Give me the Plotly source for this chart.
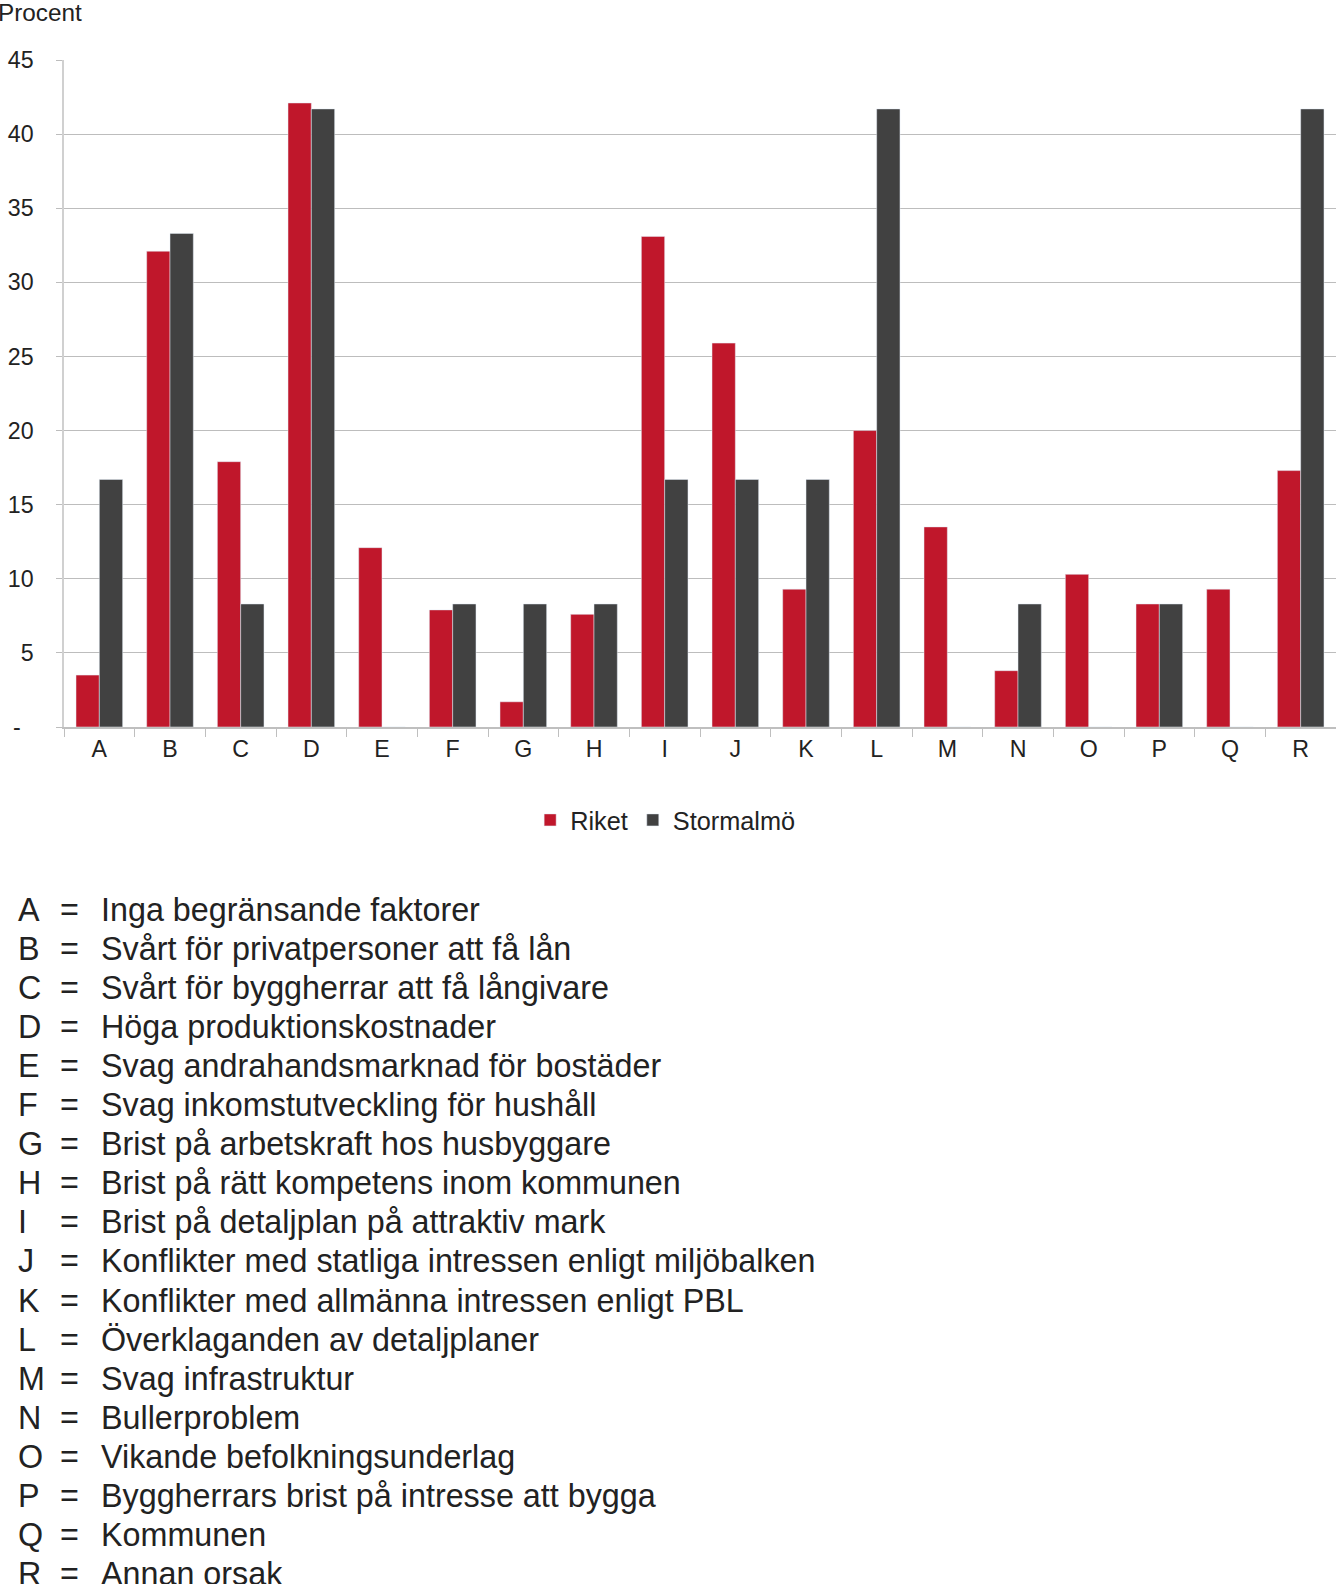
import plotly.graph_objects as go

# ---- data ----
categories = list("ABCDEFGHIJKLMNOPQR")
riket = [3.5, 32.1, 17.9, 42.1, 12.1, 7.9, 1.7, 7.6, 33.1, 25.9, 9.3, 20.0, 13.5, 3.8, 10.3, 8.3, 9.3, 17.3]
stormalmo = [16.7, 33.3, 8.3, 41.7, 0, 8.3, 8.3, 8.3, 16.7, 16.7, 16.7, 41.7, 0, 8.3, 0, 8.3, 0, 41.7]
descriptions = [
    "Inga begränsande faktorer",
    "Svårt för privatpersoner att få lån",
    "Svårt för byggherrar att få långivare",
    "Höga produktionskostnader",
    "Svag andrahandsmarknad för bostäder",
    "Svag inkomstutveckling för hushåll",
    "Brist på arbetskraft hos husbyggare",
    "Brist på rätt kompetens inom kommunen",
    "Brist på detaljplan på attraktiv mark",
    "Konflikter med statliga intressen enligt miljöbalken",
    "Konflikter med allmänna intressen enligt PBL",
    "Överklaganden av detaljplaner",
    "Svag infrastruktur",
    "Bullerproblem",
    "Vikande befolkningsunderlag",
    "Byggherrars brist på intresse att bygga",
    "Kommunen",
    "Annan orsak",
]
y_ticks = [0, 5, 10, 15, 20, 25, 30, 35, 40, 45]
# Excel accounting style: the zero dash sits a bit left of the numbers
y_tick_text = ["-\u00a0\u00a0", "5", "10", "15", "20", "25", "30", "35", "40", "45"]

RED = "#C0172B"
GREY = "#414141"
FONT = "Liberation Sans, Arial, sans-serif"
TXT = "#222222"

# the screenshot comes out ~1% smaller than the page, so lay out
# everything in target pixels and blow it up by S
S = 1.0105
W, H = round(1336 * S), round(1584 * S)
L, R, T, B = 63, 14, 59, 865   # target px
PW = (1336 - L - R)
PH = (1584 - T - B)


def px_x(px):
    return (px - L) / PW


def px_y(py):
    return (1584 - B - py) / PH


def fs(size):
    return round(size * S, 1)


fig = go.Figure()
fig.add_trace(go.Bar(x=categories, y=riket, name="Riket", marker_color=RED))
fig.add_trace(go.Bar(x=categories, y=stormalmo, name="Stormalmö", marker_color=GREY))

annotations = [
    dict(text="Procent", xref="paper", yref="paper", x=px_x(-4), y=px_y(12),
         xanchor="left", yanchor="middle", showarrow=False,
         font=dict(size=fs(24), color=TXT, family=FONT))
]

row_y0 = 900
row_step = 38.65
for i, (letter, desc) in enumerate(zip(categories, descriptions)):
    y = px_y(row_y0 + i * row_step)
    for x, txt in ((15, letter), (57, "="), (98, desc)):
        annotations.append(dict(text=txt, xref="paper", yref="paper", x=px_x(x), y=y,
                                xanchor="left", yanchor="middle", showarrow=False,
                                font=dict(size=fs(32), color=TXT, family=FONT)))

fig.update_layout(
    width=W, height=H, autosize=False,
    margin=dict(l=L * S, r=R * S, t=T * S, b=B * S),
    plot_bgcolor="white", paper_bgcolor="white",
    barmode="group", bargap=0.34, bargroupgap=0,
    font=dict(family=FONT, size=fs(23), color=TXT),
    showlegend=True,
    legend=dict(orientation="h", x=px_x(658), xanchor="center",
                y=px_y(811), yanchor="middle",
                font=dict(size=fs(25), color=TXT, family=FONT),
                itemwidth=30, traceorder="normal"),
    xaxis=dict(
        automargin=False,
        showline=True, linecolor="#BFBFBF", linewidth=1.5,
        ticks="outside", tickson="boundaries", ticklen=8, tickcolor="#BFBFBF",
        tickfont=dict(size=fs(23), color=TXT), showgrid=False,
    ),
    yaxis=dict(
        automargin=False,
        range=[0, 45], tickvals=y_ticks, ticktext=y_tick_text,
        showline=True, linecolor="#D0D0D0", linewidth=1.5,
        gridcolor="#BDBDBD", gridwidth=1.2,
        ticks="outside", ticklen=6, tickcolor="#BDBDBD",
        ticklabelstandoff=18,
        tickfont=dict(size=fs(23), color=TXT), zeroline=False,
    ),
    annotations=annotations,
)

page_css = ("document.documentElement.style.overflow='hidden';"
            "document.body.style.margin='0';"
            "document.body.style.overflow='hidden';")
fig.write_html("out.html", config={"displayModeBar": False}, post_script=page_css)
